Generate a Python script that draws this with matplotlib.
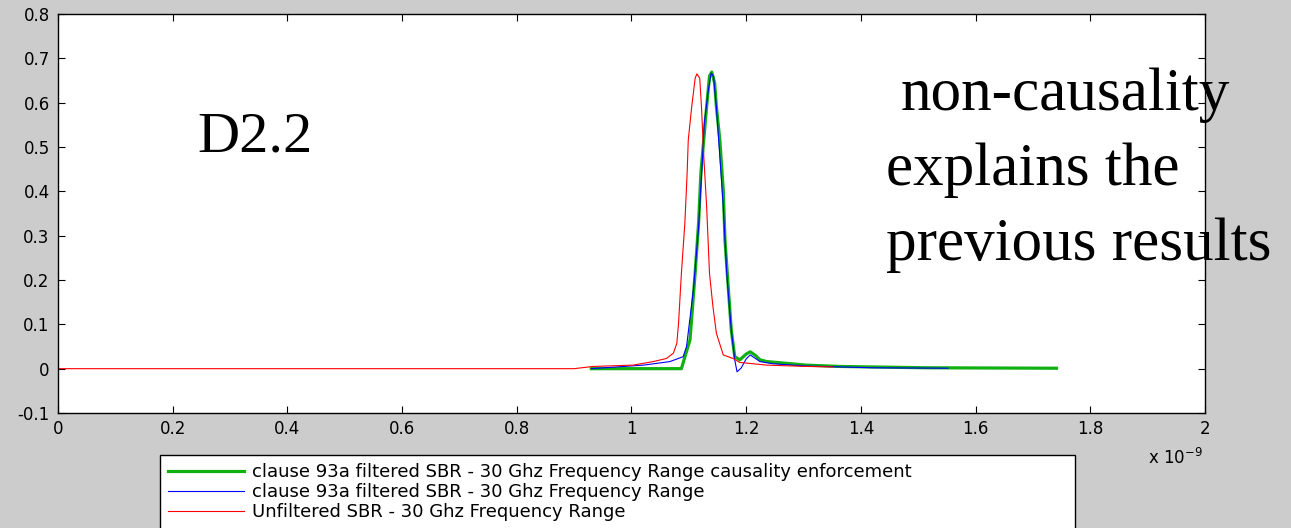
import matplotlib
matplotlib.use('Agg')
import matplotlib.pyplot as plt
from matplotlib.ticker import FuncFormatter
import numpy as np

# time in ns, amplitude
t_green = [0.93, 1.087, 1.102, 1.111, 1.117, 1.121, 1.126, 1.131, 1.136, 1.140, 1.145, 1.148,
           1.154, 1.160, 1.163, 1.169, 1.174, 1.180, 1.189, 1.200, 1.207, 1.216, 1.224, 1.236,
           1.270, 1.305, 1.363, 1.515, 1.741]
y_green = [0.0, 0.0, 0.065, 0.216, 0.329, 0.442, 0.516, 0.591, 0.660, 0.669, 0.644, 0.591,
           0.516, 0.403, 0.290, 0.178, 0.087, 0.027, 0.020, 0.033, 0.038, 0.030, 0.020, 0.016,
           0.012, 0.008, 0.005, 0.002, 0.001]

t_blue = [0.93, 1.021, 1.067, 1.090, 1.096, 1.108, 1.117, 1.123, 1.127, 1.134, 1.139, 1.143,
          1.148, 1.154, 1.160, 1.166, 1.174, 1.180, 1.184, 1.191, 1.200, 1.207, 1.224, 1.247,
          1.305, 1.421, 1.552]
y_blue = [0.0, 0.008, 0.016, 0.027, 0.050, 0.178, 0.320, 0.456, 0.554, 0.629, 0.667, 0.659,
          0.591, 0.479, 0.366, 0.216, 0.087, 0.020, -0.007, 0.001, 0.022, 0.031, 0.016, 0.011,
          0.006, 0.002, 0.001]

t_red = [0.0, 0.90, 0.933, 1.003, 1.038, 1.061, 1.073, 1.079, 1.082, 1.087, 1.093, 1.097, 1.099,
         1.105, 1.111, 1.114, 1.119, 1.122, 1.126, 1.131, 1.136, 1.142, 1.148, 1.160, 1.177,
         1.189, 1.236, 1.305, 1.351]
y_red = [0.0, 0.0, 0.005, 0.008, 0.016, 0.023, 0.035, 0.057, 0.102, 0.215, 0.328, 0.441, 0.516,
         0.591, 0.655, 0.665, 0.655, 0.591, 0.479, 0.366, 0.215, 0.140, 0.080, 0.031, 0.023,
         0.014, 0.008, 0.005, 0.004]

xticks_ns = [0, 0.2, 0.4, 0.6, 0.8, 1.0, 1.2, 1.4, 1.6, 1.8, 2.0]
yticks = [-0.1, 0, 0.1, 0.2, 0.3, 0.4, 0.5, 0.6, 0.7, 0.8]

labels = ['clause 93a filtered SBR - 30 Ghz Frequency Range causality enforcement',
          'clause 93a filtered SBR - 30 Ghz Frequency Range',
          'Unfiltered SBR - 30 Ghz Frequency Range']

fig = plt.figure(figsize=(12.91, 5.28), dpi=100, facecolor='#cccccc')
ax = fig.add_axes([58/1291, 1-413/528, (1205-58)/1291, (413-14)/528])

ax.plot(np.array(t_green)*1e-9, y_green, color='#10b010', lw=2.3, label=labels[0])
ax.plot(np.array(t_blue)*1e-9, y_blue, color='#0000ff', lw=0.8, label=labels[1])
ax.plot(np.array(t_red)*1e-9, y_red, color='#ff0000', lw=0.8, label=labels[2])

ax.set_xlim(0, 2e-9)
ax.set_ylim(-0.1, 0.8)
ax.set_xticks(np.array(xticks_ns)*1e-9)
ax.set_yticks(yticks)
ax.xaxis.set_major_formatter(FuncFormatter(lambda v, p: '%g' % round(v*1e9, 3)))
ax.yaxis.set_major_formatter(FuncFormatter(lambda v, p: '%g' % round(v, 3)))
ax.tick_params(direction='in', top=True, right=True, length=5, labelsize=12)
ax.tick_params(axis='y', pad=6)
ax.tick_params(axis='x', pad=5)
for s in ax.spines.values():
    s.set_linewidth(1.0)

fig.text(1175/1291, 1-458/528, 'x 10$^{-9}$', fontsize=12, ha='center', va='center')

ax.text(139/1147, 1-(137-14)/399, 'D2.2', transform=ax.transAxes, family='Liberation Serif',
        fontsize=42, ha='left', va='center')
fig.text(901/1291, 1-95/528, 'non-causality', family='Liberation Serif', fontsize=44,
         ha='left', va='center')
fig.text(886/1291, 1-170/528, 'explains the', family='Liberation Serif', fontsize=44,
         ha='left', va='center')
fig.text(886/1291, 1-245/528, 'previous results', family='Liberation Serif', fontsize=44,
         ha='left', va='center')

leg = fig.legend(loc='upper left', bbox_to_anchor=(160/1291, 1-455/528, 915/1291, 0.0),
                 mode='expand', fontsize=13, fancybox=False, framealpha=1, edgecolor='black',
                 handlelength=4.2, handletextpad=0.45, borderaxespad=0, labelspacing=0.12,
                 borderpad=0.45)
leg.get_frame().set_linewidth(1.0)

fig.savefig('out.png', dpi=100, facecolor=fig.get_facecolor())
